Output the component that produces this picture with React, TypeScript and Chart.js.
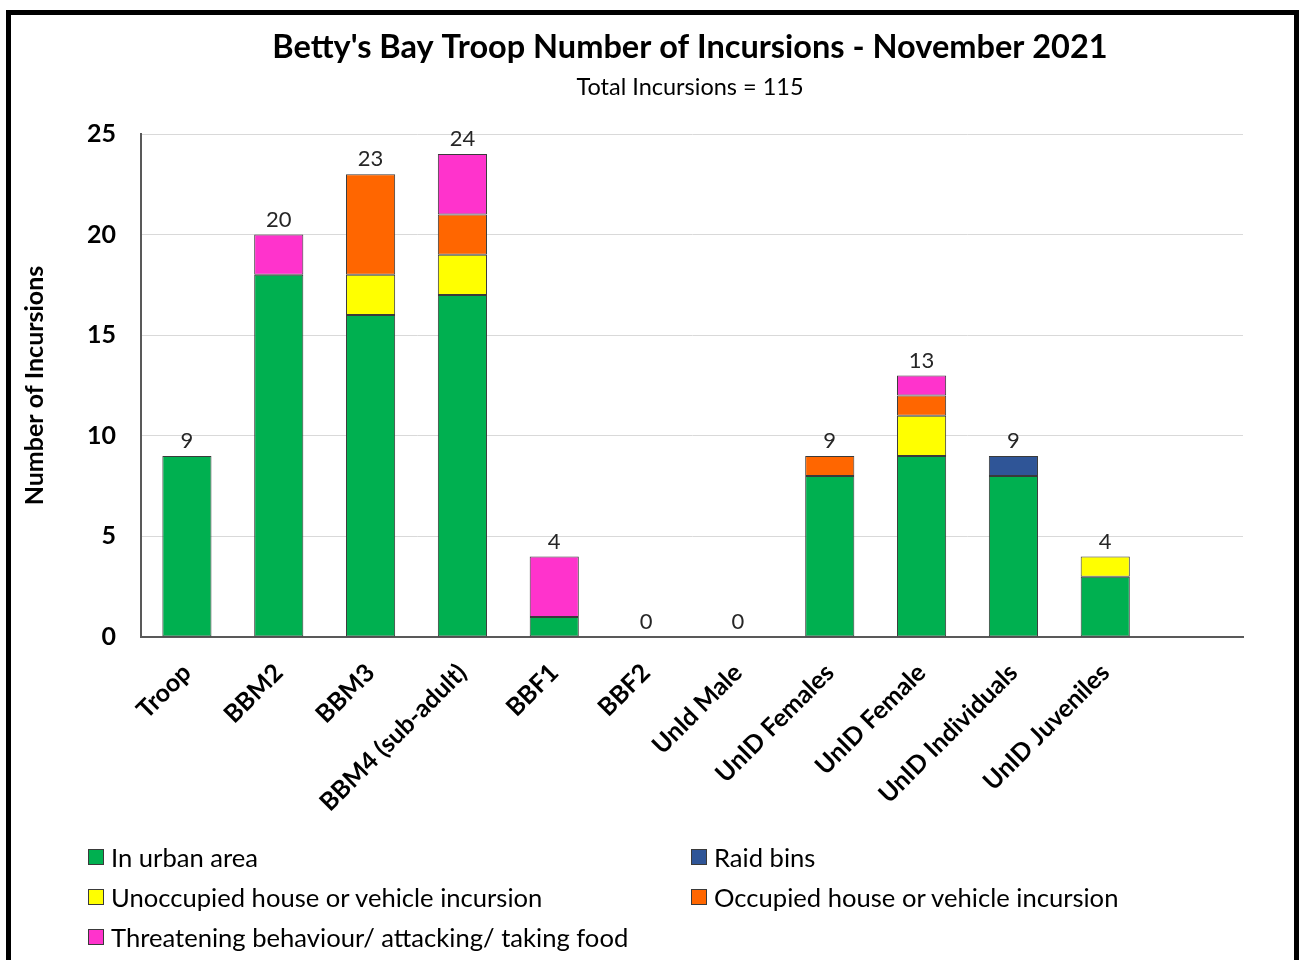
import React, { useEffect, useRef } from "react";
import { Chart, registerables } from "chart.js";

Chart.register(...registerables);

const titleText = "Betty's Bay Troop Number of Incursions - November 2021";
const subtitleText = "Total Incursions = 115";
const yAxisTitle = "Number of Incursions";

const categories = [
  "Troop",
  "BBM2",
  "BBM3",
  "BBM4 (sub-adult)",
  "BBF1",
  "BBF2",
  "UnId Male",
  "UnID Females",
  "UnID Female",
  "UnID Individuals",
  "UnID Juveniles",
  "",
];

const urbanArea = [9, 18, 16, 17, 1, 0, 0, 8, 9, 8, 3, null];
const raidBins = [0, 0, 0, 0, 0, 0, 0, 0, 0, 1, 0, null];
const unoccupied = [0, 0, 2, 2, 0, 0, 0, 0, 2, 0, 1, null];
const occupied = [0, 0, 5, 2, 0, 0, 0, 1, 1, 0, 0, null];
const threatening = [0, 2, 0, 3, 3, 0, 0, 0, 1, 0, 0, null];

const seriesNames = [
  "In urban area",
  "Raid bins",
  "Unoccupied house or vehicle incursion",
  "Occupied house or vehicle incursion",
  "Threatening behaviour/ attacking/ taking food",
];
const seriesColors = ["#00B050", "#2F5597", "#FFFF00", "#FF6600", "#FF33CC"];
const seriesData = [urbanArea, raidBins, unoccupied, occupied, threatening];

const yTicks = [0, 5, 10, 15, 20, 25];

const FONT = "Lato, 'Open Sans', sans-serif";

const titlePlugin = {
  id: "customTitle",
  afterDraw(chart: any) {
    const { ctx, chartArea } = chart;
    const cx = (chartArea.left + chartArea.right) / 2 - 2;
    ctx.save();
    ctx.fillStyle = "#000";
    ctx.textAlign = "center";
    ctx.textBaseline = "middle";
    ctx.font = `bold 32.5px ${FONT}`;
    ctx.fillText(titleText, cx, 48);
    ctx.font = `23.5px ${FONT}`;
    ctx.fillText(subtitleText, cx, 87);
    ctx.restore();
  },
};

const totalsPlugin = {
  id: "totals",
  afterDatasetsDraw(chart: any) {
    const { ctx, scales } = chart;
    const x = scales.x;
    const y = scales.y;
    ctx.save();
    ctx.fillStyle = "#262626";
    ctx.textAlign = "center";
    ctx.textBaseline = "bottom";
    ctx.font = `22px ${FONT}`;
    categories.forEach((c, i) => {
      if (!c) return;
      let total = 0;
      seriesData.forEach((s) => {
        total += (s[i] as number) || 0;
      });
      const px = x.getPixelForValue(i);
      const py = y.getPixelForValue(total) - 4;
      ctx.fillText(String(total), px, py);
    });
    ctx.restore();
  },
};

export default function App() {
  const canvasRef = useRef<HTMLCanvasElement | null>(null);

  useEffect(() => {
    const canvas = canvasRef.current;
    if (!canvas) return;
    const chart = new Chart(canvas, {
      type: "bar",
      data: {
        labels: categories,
        datasets: seriesData.map((d, i) => ({
          label: seriesNames[i],
          data: d as any,
          backgroundColor: seriesColors[i],
          borderColor: "#3a3a3a",
          borderWidth: (c: any) => (c.raw ? 1 : 0),
          borderSkipped: false,
          barPercentage: 0.535,
          categoryPercentage: 1,
        })),
      },
      options: {
        responsive: false,
        animation: false,
        devicePixelRatio: 1,
        layout: { padding: { left: 20, right: 57, top: 134, bottom: 0 } },
        plugins: {
          legend: { display: false },
          title: { display: false },
          tooltip: { enabled: false },
        },
        scales: {
          x: {
            stacked: true,
            afterFit: (s: any) => {
              s.height = 203;
            },
            grid: { display: false, drawTicks: false },
            border: { display: true, color: "#595959", width: 2 },
            ticks: {
              autoSkip: false,
              maxRotation: 45,
              minRotation: 45,
              padding: 21,
              color: "#000",
              font: { family: FONT, size: 25, weight: "bold" },
            },
          },
          y: {
            stacked: true,
            min: 0,
            max: 25,
            afterFit: (s: any) => {
              s.width = 121;
            },
            afterBuildTicks: (s: any) => {
              s.ticks = yTicks.map((v) => ({ value: v }));
            },
            grid: { color: "#d9d9d9", lineWidth: 1, drawTicks: false },
            border: { display: true, color: "#595959", width: 2 },
            ticks: {
              padding: 25,
              color: "#000",
              font: { family: FONT, size: 25, weight: "bold" },
            },
            title: {
              display: true,
              text: yAxisTitle,
              color: "#000",
              font: { family: FONT, size: 25, weight: "bold" },
              padding: { top: 0, bottom: 0 },
            },
          },
        },
      },
      plugins: [titlePlugin, totalsPlugin],
    } as any);
    return () => chart.destroy();
  }, []);

  const legendItem = (i: number) => (
    <div
      key={i}
      style={{ display: "flex", alignItems: "center", height: 40 }}
    >
      <span
        style={{
          display: "inline-block",
          width: 14,
          height: 14,
          background: seriesColors[i],
          border: "1px solid #3a3a3a",
          marginRight: 7,
        }}
      />
      <span>{seriesNames[i]}</span>
    </div>
  );

  return (
    <div
      style={{
        position: "absolute",
        left: 0,
        top: 0,
        width: 1300,
        height: 960,
        overflow: "hidden",
        background: "#fff",
      }}
    >
      <div
        style={{
          position: "absolute",
          left: 6,
          top: 10,
          width: 1293,
          height: 1000,
          border: "5px solid #000",
          boxSizing: "border-box",
        }}
      />
      <canvas
        ref={canvasRef}
        width={1300}
        height={840}
        style={{ position: "absolute", left: 0, top: 0, width: 1300, height: 840 }}
      />
      <div
        style={{
          position: "absolute",
          left: 88,
          top: 837,
          width: 1150,
          display: "grid",
          gridTemplateColumns: "603px 547px",
          fontFamily: FONT,
          fontSize: 25.6,
          color: "#000",
        }}
      >
        {[0, 1, 2, 3, 4].map((i) => legendItem(i))}
      </div>
    </div>
  );
}
